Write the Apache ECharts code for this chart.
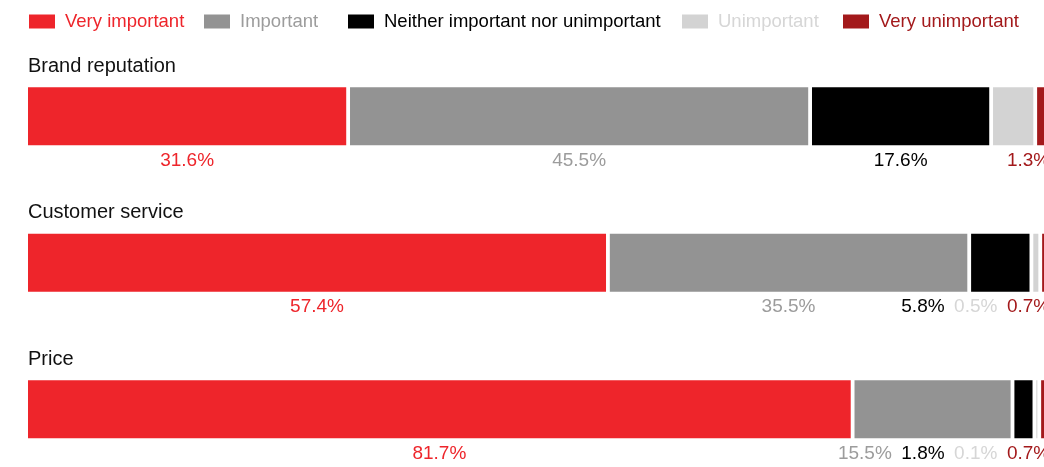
<!DOCTYPE html>
<html>
<head>
<meta charset="utf-8">
<script src="https://cdn.jsdelivr.net/npm/echarts@6/dist/echarts.min.js"></script>
<style>
  html, body { margin: 0; padding: 0; background: #ffffff; }
  #chart { width: 1044px; height: 467px; }
</style>
</head>
<body>
<div id="chart"></div>
<script>
// Survey answers, percent of respondents per factor
const categories = ['Brand reputation', 'Customer service', 'Price'];
const levels = ['Very important', 'Important', 'Neither important nor unimportant', 'Unimportant', 'Very unimportant'];
const veryImportant   = [31.6, 57.4, 81.7];
const important       = [45.5, 35.5, 15.5];
const neither         = [17.6, 5.8, 1.8];
const unimportant     = [4.0, 0.5, 0.1];
const veryUnimportant = [1.3, 0.7, 0.7];
// segments drawn without a value label: [category, level]
const unlabeled = [['Brand reputation', 'Unimportant']];

const seriesValues = [veryImportant, important, neither, unimportant, veryUnimportant];

// look
const FONT = '"Liberation Sans", Arial, Helvetica, sans-serif';
const colors      = ['#ee252b', '#939393', '#000000', '#d3d3d3', '#a3191b'];
const labelColors = ['#ee252b', '#9c9c9c', '#000000', '#d6d6d6', '#a3191b'];
const BAR_H = 58;        // bar thickness in px
const SEG_GAP = 3.8;     // white gap between segments in px
const LABEL_GAP = 9.5;   // min space between neighbouring value labels
const LABEL_SIZE = 19;
const legendLeft = [29, 204, 348, 682, 843];

const measureCtx = document.createElement('canvas').getContext('2d');
function textWidth(str, size) {
  measureCtx.font = size + 'px ' + FONT;
  return measureCtx.measureText(str).width;
}
function fmt(v) { return v.toFixed(1) + '%'; }
function isUnlabeled(ri, li) {
  return unlabeled.some(u => u[0] === categories[ri] && u[1] === levels[li]);
}

// segment extent in px for level li of row ri
function segment(ri, li, api) {
  let before = 0;
  for (let k = 0; k < li; k++) before += seriesValues[k][ri];
  const p0 = api.coord([before, ri]);
  const p1 = api.coord([before + seriesValues[li][ri], ri]);
  const x0 = p0[0] + li * SEG_GAP;
  return { x0: x0, x1: x0 + (p1[0] - p0[0]), cy: p0[1] };
}

// value labels sit centred under their segment, pushed left when they would collide
function layoutLabels(ri, api) {
  const out = new Array(levels.length).fill(null);
  let limit = api.coord([100, ri])[0] + (levels.length - 1) * SEG_GAP;
  for (let li = levels.length - 1; li >= 0; li--) {
    if (isUnlabeled(ri, li)) continue;
    const seg = segment(ri, li, api);
    const w = textWidth(fmt(seriesValues[li][ri]), LABEL_SIZE);
    const centre = (seg.x0 + seg.x1) / 2;
    const right = Math.min(centre + w / 2, limit);
    out[li] = right - w;
    limit = right - w - LABEL_GAP;
  }
  return out;
}

function levelSeries(li) {
  return {
    type: 'custom',
    name: levels[li],
    itemStyle: { color: colors[li] },
    encode: { x: 0, y: 1 },
    data: categories.map((c, ri) => [seriesValues[li][ri], ri]),
    renderItem: function (params, api) {
      const ri = api.value(1);
      const seg = segment(ri, li, api);
      const top = seg.cy - BAR_H / 2;
      const children = [{
        type: 'rect',
        shape: { x: seg.x0, y: top, width: Math.max(seg.x1 - seg.x0, 0.5), height: BAR_H },
        style: { fill: colors[li] }
      }];
      const lx = layoutLabels(ri, api)[li];
      if (lx !== null) {
        children.push({
          type: 'text',
          x: lx,
          y: top + BAR_H + 15.5,
          style: {
            text: fmt(seriesValues[li][ri]),
            fill: labelColors[li],
            fontSize: LABEL_SIZE,
            fontFamily: FONT,
            align: 'left',
            verticalAlign: 'middle'
          }
        });
      }
      return { type: 'group', children: children };
    }
  };
}

// row headings above each bar
const headingSeries = {
  type: 'custom',
  name: 'rows',
  silent: true,
  encode: { x: 0, y: 1 },
  data: categories.map((c, ri) => [0, ri]),
  renderItem: function (params, api) {
    const ri = api.value(1);
    const p = api.coord([0, ri]);
    return {
      type: 'text',
      x: p[0],
      y: p[1] - BAR_H / 2 - 21,
      style: {
        text: categories[ri],
        fill: '#111111',
        fontSize: 20,
        fontFamily: FONT,
        align: 'left',
        verticalAlign: 'middle'
      }
    };
  }
};

const legends = levels.map((name, li) => ({
  data: [name],
  left: legendLeft[li],
  top: 12,
  padding: 0,
  icon: 'rect',
  itemWidth: 26,
  itemHeight: 14,
  textStyle: {
    color: labelColors[li],
    fontSize: 18.5,
    fontFamily: FONT,
    padding: [0, 0, 0, 5]
  }
}));

const chart = echarts.init(document.getElementById('chart'), null, { renderer: 'canvas' });
chart.setOption({
  animation: false,
  backgroundColor: '#ffffff',
  legend: legends,
  grid: { left: 28, width: 1007, top: 43, height: 439.5, outerBoundsMode: 'none' },
  xAxis: { type: 'value', min: 0, max: 100, show: false },
  yAxis: { type: 'category', data: categories, inverse: true, show: false },
  series: [headingSeries].concat(levels.map((n, li) => levelSeries(li)))
});
</script>
</body>
</html>
